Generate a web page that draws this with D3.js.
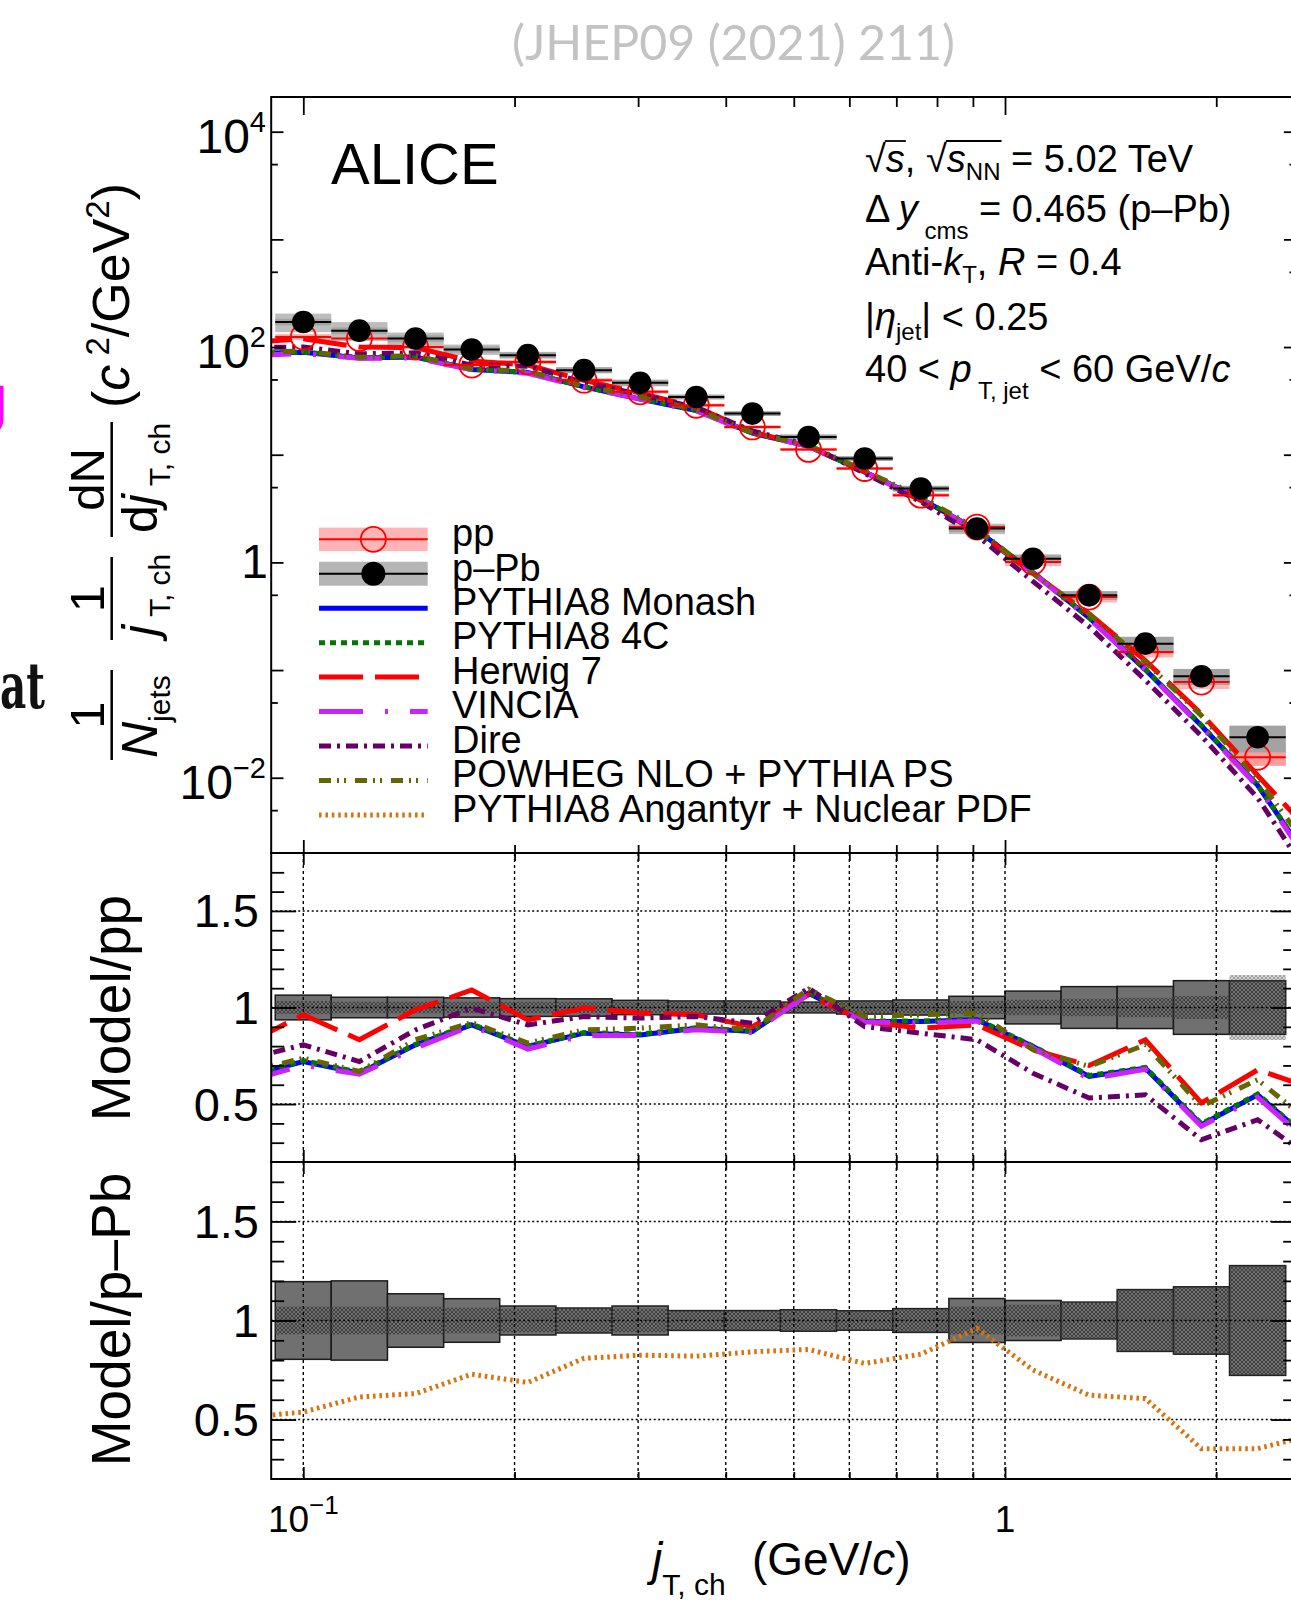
<!DOCTYPE html>
<html>
<head>
<meta charset="utf-8">
<title>jT,ch distributions, pp and p-Pb</title>
<script src="https://cdn.jsdelivr.net/npm/d3@7"></script>
<style>
  body { margin: 0; background: #fff; }
  svg { display: block; font-family: "Liberation Sans", Arial, Helvetica, sans-serif; }
  text { white-space: pre; }
</style>
</head>
<body>
<script>
/* global d3 */

/*
** Data
*/
// jT,ch bins in GeV/c
var binEdges = [0.0912, 0.1096, 0.1318, 0.1585, 0.1905, 0.2291, 0.2754, 0.3311, 0.3981,
                0.4786, 0.5754, 0.6918, 0.8318, 1.000, 1.202, 1.445, 1.738, 2.089, 2.512];
var binCenters = [0.1000, 0.1202, 0.1445, 0.1738, 0.2089, 0.2512, 0.3020, 0.3631, 0.4365,
                  0.5248, 0.6310, 0.7586, 0.9120, 1.096, 1.318, 1.585, 1.905, 2.291];
// model curves carry one extra point on each side of the measured range
var modelEnds = [0.0832, 2.754];

var ppYield  = [124, 120, 100, 68.0, 72.8, 49.2, 38.4, 28.8, 18.1, 11.2, 7.45, 4.21, 2.13,
                1.01, 0.476, 0.147, 0.0774, 0.0155];
var pPbYield = [171, 142, 120, 95.0, 84.1, 61.0, 46.5, 34.4, 24.1, 14.6, 9.22, 4.85, 2.06,
                1.08, 0.494, 0.176, 0.0875, 0.0238];
var ppOutside = [135, 0.0050];   // pp reference under the two extra model points

// relative systematic boxes (half heights)
var ppSys    = [0.064, 0.053, 0.053, 0.050, 0.046, 0.045, 0.037, 0.034, 0.034, 0.028, 0.034, 0.039,
                0.058, 0.085, 0.108, 0.109, 0.139, 0.138];
var ppHatch  = [0.034, 0.030, 0.030, 0.030, 0.030, 0.030, 0.030, 0.030, 0.030, 0.028, 0.030, 0.030,
                0.034, 0.040, 0.045, 0.050, 0.060, 0.168];
var pPbSys   = [0.196, 0.200, 0.135, 0.110, 0.073, 0.063, 0.073, 0.050, 0.050, 0.054, 0.049, 0.060,
                0.111, 0.101, 0.093, 0.156, 0.170, 0.277];
var pPbHatch = [0.070, 0.070, 0.070, 0.065, 0.060, 0.063, 0.060, 0.050, 0.050, 0.054, 0.049, 0.060,
                0.070, 0.080, 0.093, 0.156, 0.170, 0.277];

// Model / pp ratios (first and last value sit outside the frame)
var monash   = [0.646, 0.720, 0.660, 0.807, 0.910, 0.798, 0.867, 0.858, 0.893, 0.876, 1.074, 0.927,
                0.927, 0.936, 0.798, 0.643, 0.686, 0.393, 0.548, 0.297];
var pythia4C = [0.650, 0.725, 0.665, 0.810, 0.915, 0.800, 0.870, 0.862, 0.895, 0.878, 1.078, 0.930,
                0.930, 0.940, 0.800, 0.648, 0.690, 0.398, 0.552, 0.300];
var herwig7  = [0.815, 0.962, 0.833, 0.988, 1.091, 0.936, 0.997, 0.971, 0.962, 0.901, 1.065, 0.927,
                0.893, 0.910, 0.780, 0.700, 0.833, 0.506, 0.677, 0.580];
var vincia   = [0.620, 0.700, 0.655, 0.790, 0.905, 0.785, 0.855, 0.855, 0.885, 0.870, 1.070, 0.925,
                0.920, 0.930, 0.790, 0.630, 0.680, 0.385, 0.535, 0.280];
var dire     = [0.733, 0.807, 0.720, 0.884, 0.997, 0.910, 0.953, 0.945, 0.953, 0.919, 1.100, 0.901,
                0.867, 0.833, 0.660, 0.531, 0.548, 0.315, 0.419, 0.211];
var powheg   = [0.664, 0.738, 0.669, 0.833, 0.922, 0.816, 0.884, 0.893, 0.910, 0.884, 1.095, 0.953,
                0.962, 0.971, 0.781, 0.695, 0.807, 0.488, 0.626, 0.389];
// Model / p-Pb
var angantyr = [0.511, 0.538, 0.614, 0.631, 0.729, 0.687, 0.809, 0.825, 0.820, 0.842, 0.854, 0.783,
                0.830, 0.960, 0.750, 0.623, 0.606, 0.353, 0.353, 0.425];

var modelNames = ["PYTHIA8 Monash", "PYTHIA8 4C", "Herwig 7", "VINCIA", "Dire",
                  "POWHEG NLO + PYTHIA PS", "PYTHIA8 Angantyr + Nuclear PDF"];

// ticks
var xMajor = [0.1, 1];
var xMinor = [0.2, 0.3, 0.4, 0.5, 0.6, 0.7, 0.8, 0.9, 2];
var yTopMajor = [1e-2, 1e-1, 1, 10, 100, 1e3, 1e4];
var yTopMinor = [5e-3, 5e-2, 0.5, 5, 50, 500, 5e3];
var yTopLabels = [1e-2, 1, 100, 1e4];
var ratioMajor = [0.5, 1, 1.5];
var ratioMinor = [0.3, 0.4, 0.6, 0.7, 0.8, 0.9, 1.1, 1.2, 1.3, 1.4, 1.6, 1.7];

/*
** Layout
*/
var W = 1291, H = 1600
  , left = 271.2, right = 1296.2
  , panels = { top: [97, 853], mid: [853, 1162], bot: [1162, 1479] }
;

var x = d3.scaleLog().domain([0.09, 2.6]).range([left, right]);
var yTop = d3.scaleLog().domain([2e-3, 2.1e4]).range([panels.top[1], panels.top[0]]);
var yMid = d3.scaleLinear().domain([0.2, 1.8]).range([panels.mid[1], panels.mid[0]]);
var yBot = d3.scaleLinear().domain([0.2, 1.8]).range([panels.bot[1], panels.bot[0]]);

var styles = [
    { values: monash,   color: "#0000ff", dash: null }
  , { values: pythia4C, color: "#007700", dash: "6,5" }
  , { values: herwig7,  color: "#ff0000", dash: "44,12" }
  , { values: vincia,   color: "#cc22ff", dash: "44,22,3,22" }
  , { values: dire,     color: "#660066", dash: "12,6,3,6" }
  , { values: powheg,   color: "#666600", dash: "12,6,2,5,2,9" }
  , { values: angantyr, color: "#d9730d", dash: "2.6,3.8" }
];
styles.forEach(function(s, i) { s.name = modelNames[i]; });

var modelX = [modelEnds[0]].concat(binCenters, [modelEnds[1]]);
var ppRef = [ppOutside[0]].concat(ppYield, [ppOutside[1]]);
var bins = d3.range(binCenters.length);
var ones = bins.map(function() { return 1; });

var svg = d3.select("body").append("svg").attr("width", W).attr("height", H);
var defs = svg.append("defs");

Object.keys(panels).forEach(function(k) {
  defs.append("clipPath").attr("id", "clip-" + k)
    .append("rect")
      .attr("x", left).attr("y", panels[k][0])
      .attr("width", right - left).attr("height", panels[k][1] - panels[k][0]);
});

function mesh(id, bg, fg) {
  var p = defs.append("pattern").attr("id", id)
      .attr("patternUnits", "userSpaceOnUse").attr("width", 4).attr("height", 4);
  if (bg) p.append("rect").attr("width", 4).attr("height", 4).attr("fill", bg);
  p.append("path").attr("d", "M0,0L4,4M4,0L0,4").attr("stroke", fg).attr("stroke-width", 0.9);
}
mesh("meshDark", null, "#3c3c3c");
mesh("meshLight", "#d2d2d2", "#9a9a9a");

/*
** Helpers
*/
// rich text: parts are [text, kind, offset]; kind in "", "i", "sub", "sup", "isub"
function rich(parent, xp, yp, parts, o) {
  var t = parent.append("text").attr("x", xp).attr("y", yp)
      .attr("font-size", o.size).attr("fill", o.fill || "#000");
  if (o.anchor) t.attr("text-anchor", o.anchor);
  var level = 0;
  parts.forEach(function(p) {
    var kind = p[1] || "", s = t.append("tspan").text(p[0]);
    var isSub = /sub/.test(kind), isSup = /sup/.test(kind);
    var want = isSub ? (p[2] != null ? p[2] : o.sub) : isSup ? -(p[2] != null ? p[2] : o.sup) : 0;
    if (want !== level) { s.attr("dy", want - level); level = want; }
    if (isSub || isSup) s.attr("font-size", o.small);
    if (/i/.test(kind)) s.attr("font-style", "italic");
  });
  return t;
}

function bandRects(g, yS, vals, rel, fill, stroke) {
  g.append("g").selectAll("rect").data(bins).join("rect")
      .attr("x", function(i) { return x(binEdges[i]); })
      .attr("width", function(i) { return x(binEdges[i + 1]) - x(binEdges[i]); })
      .attr("y", function(i) { return yS(vals[i] * (1 + rel[i])); })
      .attr("height", function(i) { return yS(vals[i] * (1 - rel[i])) - yS(vals[i] * (1 + rel[i])); })
      .attr("fill", fill)
      .attr("stroke", stroke || "none")
      .attr("stroke-width", 1.5);
}

function modelPath(g, yS, vals, s) {
  g.append("path")
      .datum(vals)
      .attr("d", d3.line()
          .x(function(d, i) { return x(modelX[i]); })
          .y(function(d) { return yS(d); }))
      .attr("fill", "none")
      .attr("stroke", s.color)
      .attr("stroke-width", 5)
      .attr("stroke-dasharray", s.dash);
}

function tickSet(g, axisFn, scale, values, size, tx, ty) {
  g.append("g")
      .attr("transform", "translate(" + tx + "," + ty + ")")
      .call(axisFn(scale).tickValues(values).tickSize(-size).tickFormat(""))
      .call(function(s) { s.select(".domain").remove(); })
    .selectAll("line")
      .attr("stroke", "#000")
      .attr("stroke-width", 1.8);
}

function frame(k) {
  svg.append("rect")
      .attr("x", left).attr("y", panels[k][0])
      .attr("width", right - left).attr("height", panels[k][1] - panels[k][0])
      .attr("fill", "none").attr("stroke", "#000").attr("stroke-width", 2);
}

/*
** Top panel: spectra
*/
var gTop = svg.append("g").attr("clip-path", "url(#clip-top)");
bandRects(gTop, yTop, ppYield, ppSys, "#ffb5b5");
bandRects(gTop, yTop, ppYield, ppHatch, "#ff9c9c");
bandRects(gTop, yTop, pPbYield, pPbSys, "#bdbdbd");
bandRects(gTop, yTop, pPbYield, pPbHatch, "#a3a3a3");

styles.slice(0, 6).forEach(function(s) {
  modelPath(gTop, yTop, s.values.map(function(r, i) { return r * ppRef[i]; }), s);
});

[[ppYield, "#ff0000"], [pPbYield, "#000"]].forEach(function(d) {
  gTop.append("g").selectAll("line").data(bins).join("line")
      .attr("x1", function(i) { return x(binEdges[i]); })
      .attr("x2", function(i) { return x(binEdges[i + 1]); })
      .attr("y1", function(i) { return yTop(d[0][i]); })
      .attr("y2", function(i) { return yTop(d[0][i]); })
      .attr("stroke", d[1]).attr("stroke-width", 2);
});
gTop.append("g").selectAll("circle").data(bins).join("circle")
    .attr("cx", function(i) { return x(binCenters[i]); })
    .attr("cy", function(i) { return yTop(ppYield[i]); })
    .attr("r", 12.5)
    .attr("fill", "none").attr("stroke", "#ff0000").attr("stroke-width", 1.8);
gTop.append("g").selectAll("circle").data(bins).join("circle")
    .attr("cx", function(i) { return x(binCenters[i]); })
    .attr("cy", function(i) { return yTop(pPbYield[i]); })
    .attr("r", 11.3)
    .attr("fill", "#000");

tickSet(svg, d3.axisLeft, yTop, yTopMajor, 12.3, left, 0);
tickSet(svg, d3.axisLeft, yTop, yTopMinor, 6.7, left, 0);
tickSet(svg, d3.axisRight, yTop, yTopMajor, 12.3, right, 0);
tickSet(svg, d3.axisRight, yTop, yTopMinor, 6.7, right, 0);
tickSet(svg, d3.axisTop, x, xMajor, 18, 0, panels.top[0]);
tickSet(svg, d3.axisTop, x, xMinor, 10, 0, panels.top[0]);
tickSet(svg, d3.axisBottom, x, xMajor, 13, 0, panels.top[1]);
tickSet(svg, d3.axisBottom, x, xMinor, 8, 0, panels.top[1]);
frame("top");

// y tick labels of the top panel
yTopLabels.forEach(function(v) {
  var e = Math.round(Math.log10(v)), ty = yTop(v);
  if (e === 0) {
    rich(svg, 268, ty + 16, [["1"]], { size: 48, anchor: "end" });
  } else {
    rich(svg, 266, ty + 21, [["10"], [e < 0 ? "\u2212" + (-e) : String(e), "sup"]],
         { size: 48, small: 29, sup: 21, anchor: "end" });
  }
});

/*
** Ratio panels
*/
function ratioPanel(k, yS, sys, hatch, models) {
  var g = svg.append("g").attr("clip-path", "url(#clip-" + k + ")");
  var outside = bins.filter(function(i) { return hatch[i] > sys[i]; });
  g.append("g").selectAll("rect").data(outside).join("rect")
      .attr("x", function(i) { return x(binEdges[i]); })
      .attr("width", function(i) { return x(binEdges[i + 1]) - x(binEdges[i]); })
      .attr("y", function(i) { return yS(1 + hatch[i]); })
      .attr("height", function(i) { return yS(1 - hatch[i]) - yS(1 + hatch[i]); })
      .attr("fill", "url(#meshLight)");
  bandRects(g, yS, ones, sys, "#707070", "#1c1c1c");
  bandRects(g, yS, ones, bins.map(function(i) { return Math.min(sys[i], hatch[i]); }), "url(#meshDark)");

  // dotted grid
  g.append("g").selectAll("line").data(xMajor.concat(xMinor)).join("line")
      .attr("x1", x).attr("x2", x)
      .attr("y1", panels[k][0]).attr("y2", panels[k][1])
      .attr("stroke", "#000").attr("stroke-width", 1.4).attr("stroke-dasharray", "3,3");
  g.append("g").selectAll("line").data(ratioMajor).join("line")
      .attr("x1", left).attr("x2", right)
      .attr("y1", yS).attr("y2", yS)
      .attr("stroke", "#000").attr("stroke-width", 1.4).attr("stroke-dasharray", "2,2.5");

  models.forEach(function(s) { modelPath(g, yS, s.values, s); });

  tickSet(svg, d3.axisLeft, yS, ratioMajor, 25, left, 0);
  tickSet(svg, d3.axisLeft, yS, ratioMinor, 13, left, 0);
  tickSet(svg, d3.axisRight, yS, ratioMajor, 25, right, 0);
  tickSet(svg, d3.axisRight, yS, ratioMinor, 13, right, 0);
  tickSet(svg, d3.axisTop, x, xMajor, 12, 0, panels[k][0]);
  tickSet(svg, d3.axisTop, x, xMinor, 8, 0, panels[k][0]);
  tickSet(svg, d3.axisBottom, x, xMajor, 12, 0, panels[k][1]);
  tickSet(svg, d3.axisBottom, x, xMinor, 7, 0, panels[k][1]);
  frame(k);

  ratioMajor.forEach(function(v) {
    rich(svg, 259, yS(v) + 16.5, [[String(v)]], { size: 47, anchor: "end" });
  });
}
ratioPanel("mid", yMid, ppSys, ppHatch, styles.slice(0, 6));
ratioPanel("bot", yBot, pPbSys, pPbHatch, styles.slice(6));

// x tick labels
rich(svg, x(0.1), 1531.7, [["10"], ["\u22121", "sup"]], { size: 37, small: 26, sup: 18, anchor: "middle" });
rich(svg, x(1), 1531.7, [["1"]], { size: 37, anchor: "middle" });

/*
** Axis titles
*/
rich(svg, 652, 1575, [["j", "i"], ["T, ch", "sub"]], { size: 46, small: 30, sub: 20 });
rich(svg, 752, 1575, [["(GeV/"], ["c", "i"], [")"]], { size: 46 });

var yt = svg.append("g").attr("transform", "translate(111.7,760) rotate(-90)");
function fracBar(u0, u1) {
  yt.append("line").attr("x1", u0).attr("x2", u1).attr("y1", 0).attr("y2", 0)
      .attr("stroke", "#000").attr("stroke-width", 2.5);
}
fracBar(0, 90);
rich(yt, 45, -8, [["1"]], { size: 49, anchor: "middle" });
rich(yt, 2, 45, [["N", "i"], ["jets", "sub"]], { size: 50, small: 30, sub: 13 });
fracBar(120, 203);
rich(yt, 161.5, -8, [["1"]], { size: 49, anchor: "middle" });
rich(yt, 124, 45, [["j", "i"], [" T, ch", "sub"]], { size: 50, small: 30, sub: 13 });
fracBar(223, 338);
rich(yt, 280.5, -8, [["dN"]], { size: 49, anchor: "middle" });
rich(yt, 227, 45, [["d"], ["j", "i"], [" T, ch", "sub"]], { size: 50, small: 30, sub: 13 });
rich(yt, 352, 17, [["("], ["c", "i"], [" 2", "sup"], ["/GeV"], ["2", "sup"], [")"]],
     { size: 52, small: 33, sup: 20 });

rich(svg, 130, 0, [["Model/pp"]], { size: 55, anchor: "middle" })
    .attr("transform", "translate(0,1008) rotate(-90,130,0)");
rich(svg, 130, 0, [["Model/p\u2013Pb"]], { size: 55, anchor: "middle" })
    .attr("transform", "translate(0,1319.5) rotate(-90,130,0)");

/*
** Legend
*/
var legX0 = 319, legX1 = 427.7, legY0 = 539.3, legStep = 34.45, legText = 452;
var leg = svg.append("g");
leg.append("rect").attr("x", legX0).attr("y", legY0 - 11.7).attr("width", legX1 - legX0).attr("height", 23.4)
    .attr("fill", "#ffb5b5");
leg.append("line").attr("x1", legX0).attr("x2", legX1).attr("y1", legY0).attr("y2", legY0)
    .attr("stroke", "#ff0000").attr("stroke-width", 2);
leg.append("circle").attr("cx", (legX0 + legX1) / 2).attr("cy", legY0).attr("r", 12.5)
    .attr("fill", "none").attr("stroke", "#ff0000").attr("stroke-width", 1.8);
var ly1 = legY0 + legStep;
leg.append("rect").attr("x", legX0).attr("y", ly1 - 12).attr("width", legX1 - legX0).attr("height", 24)
    .attr("fill", "#b5b5b5");
leg.append("line").attr("x1", legX0).attr("x2", legX1).attr("y1", ly1).attr("y2", ly1)
    .attr("stroke", "#000").attr("stroke-width", 2);
leg.append("circle").attr("cx", (legX0 + legX1) / 2).attr("cy", ly1).attr("r", 12).attr("fill", "#000");

leg.selectAll("line.model").data(styles).join("line")
    .attr("class", "model")
    .attr("x1", legX0).attr("x2", legX1)
    .attr("y1", function(d, i) { return legY0 + legStep * (i + 2); })
    .attr("y2", function(d, i) { return legY0 + legStep * (i + 2); })
    .attr("stroke", function(d) { return d.color; })
    .attr("stroke-width", 5)
    .attr("stroke-dasharray", function(d) { return d.dash; });

["pp", "p\u2013Pb"].concat(modelNames).forEach(function(name, i) {
  rich(leg, legText, legY0 + legStep * i + 6.8, [[name]], { size: 38 });
});

/*
** Texts
*/
rich(svg, 331, 184, [["ALICE"]], { size: 58 });

var ann = { size: 38, small: 24 };
var l1y = 172;
var l1 = rich(svg, 865, l1y, [["\u221a"], ["s", "i"], [", \u221a"], ["s", "i"], ["NN", "sub", 8],
                              [" = 5.02 TeV"]], ann);
// overbars of the square roots
(function() {
  var n = l1.node(), yb = l1y - 31;
  [[1, 1], [5, 7]].forEach(function(r) {
    var x0 = n.getEndPositionOfChar(r[0] - 1).x, x1 = n.getEndPositionOfChar(r[1]).x;
    svg.append("line").attr("x1", x0 - 1).attr("x2", x1 + 1).attr("y1", yb).attr("y2", yb)
        .attr("stroke", "#000").attr("stroke-width", 1.8);
  });
})();
rich(svg, 865, 222, [["\u0394 "], ["y", "i"], [" cms", "sub", 17], [" = 0.465 (p\u2013Pb)"]], ann);
rich(svg, 865, 275, [["Anti-"], ["k", "i"], ["T", "sub", 8], [", "], ["R", "i"], [" = 0.4"]], ann);
rich(svg, 865, 330, [["|"], ["\u03b7", "i"], ["jet", "sub", 10], ["| < 0.25"]], ann);
rich(svg, 865, 382, [["40 < "], ["p", "i"], [" T, jet", "sub", 17], [" < 60 GeV/"], ["c", "i"]], ann);

svg.append("text")
    .attr("x", 512).attr("y", 60)
    .attr("font-family", "Lato, 'Open Sans', sans-serif")
    .attr("font-size", 48)
    .attr("fill", "#c3c3c3")
    .attr("textLength", 443).attr("lengthAdjust", "spacingAndGlyphs")
    .text("(JHEP09 (2021) 211)");

// fragments of the surrounding page at the left edge
svg.append("text")
    .attr("x", 9).attr("y", 422).attr("text-anchor", "end")
    .attr("font-family", "'DejaVu Sans', sans-serif").attr("font-weight", "bold")
    .attr("font-size", 66).attr("fill", "#ff00ff")
    .text("g");
svg.append("text")
    .attr("x", 0).attr("y", 708)
    .attr("font-family", "'DejaVu Serif', serif").attr("font-weight", "bold")
    .attr("font-size", 64).attr("fill", "#111")
    .attr("textLength", 45).attr("lengthAdjust", "spacingAndGlyphs")
    .text("at");
</script>
</body>
</html>
